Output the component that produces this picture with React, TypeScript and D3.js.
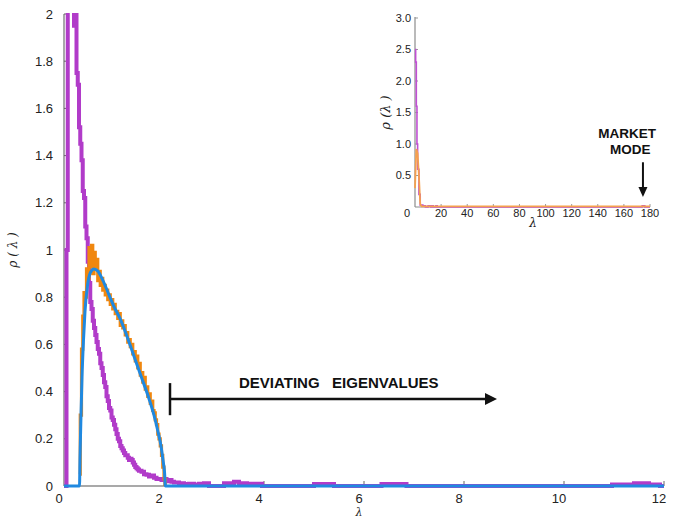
import React from 'react';
import * as d3 from 'd3';

const W = 675;
const H = 521;

// ---- main chart data ----
const mainXTicks = [0, 2, 4, 6, 8, 10, 12];
const mainYTicks = [0, 0.2, 0.4, 0.6, 0.8, 1, 1.2, 1.4, 1.6, 1.8, 2];
const mainYTickLabels = ['0', '0.2', '0.4', '0.6', '0.8', '1', '1.2', '1.4', '1.6', '1.8', '2'];

// empirical histogram (purple)
const purpleX = [0, 0.025, 0.05, 0.075, 0.1, 0.125, 0.15, 0.175, 0.2, 0.225, 0.25, 0.275, 0.3, 0.325, 0.35, 0.375, 0.4, 0.425, 0.45, 0.475, 0.5, 0.525, 0.55, 0.575, 0.6, 0.625, 0.65, 0.675, 0.7, 0.725, 0.75, 0.775, 0.8, 0.825, 0.85, 0.875, 0.9, 0.925, 0.95, 0.975, 1.0, 1.025, 1.05, 1.075, 1.1, 1.125, 1.15, 1.175, 1.2, 1.225, 1.25, 1.275, 1.3, 1.325, 1.35, 1.375, 1.4, 1.425, 1.45, 1.475, 1.5, 1.55, 1.6, 1.65, 1.7, 1.75, 1.8, 1.85, 1.9, 1.95, 2.0, 2.05, 2.1, 2.15, 2.2, 2.3, 2.4, 2.5, 2.6, 2.7, 2.8, 2.9, 3.2, 3.4, 3.5, 3.66, 3.96, 5.0, 5.4, 6.35, 6.85, 10.96, 11.4, 11.7, 11.92, 12];
const purpleY = [0, 0, 1.0, 2.6, 2.9, 2.7, 2.4, 2.25, 1.95, 2.0, 1.75, 1.7, 1.52, 1.45, 1.38, 1.25, 1.22, 1.1, 1.05, 0.95, 0.86, 0.78, 0.75, 0.7, 0.67, 0.64, 0.61, 0.58, 0.56, 0.52, 0.5, 0.47, 0.44, 0.42, 0.38, 0.36, 0.33, 0.32, 0.29, 0.28, 0.26, 0.24, 0.22, 0.2, 0.19, 0.17, 0.16, 0.15, 0.14, 0.13, 0.13, 0.12, 0.11, 0.115, 0.11, 0.1, 0.09, 0.08, 0.075, 0.07, 0.065, 0.06, 0.05, 0.048, 0.04, 0.045, 0.035, 0.03, 0.03, 0.025, 0.03, 0.02, 0.025, 0.018, 0.015, 0.012, 0.008, 0.01, 0.006, 0.01, 0.012, 0, 0.012, 0.018, 0.012, 0.01, 0, 0.008, 0, 0.008, 0, 0.006, 0.012, 0.006, 0, 0];

// shuffled / filtered histogram (orange)
const orangeX = [0.3, 0.325, 0.35, 0.375, 0.4, 0.425, 0.45, 0.475, 0.5, 0.525, 0.55, 0.575, 0.6, 0.625, 0.65, 0.675, 0.7, 0.725, 0.75, 0.775, 0.8, 0.825, 0.85, 0.875, 0.9, 0.925, 0.95, 0.975, 1.0, 1.025, 1.05, 1.075, 1.1, 1.125, 1.15, 1.175, 1.2, 1.225, 1.25, 1.275, 1.3, 1.325, 1.35, 1.375, 1.4, 1.425, 1.45, 1.475, 1.5, 1.525, 1.55, 1.575, 1.6, 1.625, 1.65, 1.675, 1.7, 1.725, 1.75, 1.775, 1.8, 1.825, 1.85, 1.875, 1.9, 1.925, 1.95, 1.975, 2.0, 2.025];
const orangeY = [0.05, 0.30, 0.58, 0.72, 0.82, 0.80, 0.92, 0.88, 1.01, 0.93, 1.02, 0.90, 0.99, 0.93, 0.96, 0.87, 0.91, 0.85, 0.88, 0.83, 0.85, 0.81, 0.83, 0.79, 0.81, 0.77, 0.79, 0.75, 0.77, 0.73, 0.74, 0.71, 0.73, 0.68, 0.70, 0.67, 0.68, 0.64, 0.65, 0.61, 0.62, 0.59, 0.60, 0.56, 0.57, 0.53, 0.55, 0.50, 0.52, 0.47, 0.48, 0.44, 0.46, 0.41, 0.42, 0.38, 0.39, 0.35, 0.36, 0.32, 0.31, 0.28, 0.26, 0.22, 0.20, 0.17, 0.13, 0.08, 0.03, 0];

// theoretical density (blue)
const blueX = [0, 0.31, 0.32, 0.34, 0.36, 0.39, 0.42, 0.47, 0.53, 0.60, 0.68, 0.78, 0.90, 1.0, 1.12, 1.25, 1.40, 1.55, 1.70, 1.80, 1.88, 1.94, 1.98, 2.01, 2.03, 12];
const blueY = [0, 0, 0.12, 0.30, 0.46, 0.62, 0.74, 0.85, 0.905, 0.92, 0.91, 0.87, 0.81, 0.76, 0.71, 0.64, 0.55, 0.46, 0.37, 0.30, 0.23, 0.17, 0.11, 0.06, 0, 0];

// ---- inset data ----
const insetXTicks = [0, 20, 40, 60, 80, 100, 120, 140, 160, 180];
const insetYTicks = [0.5, 1.0, 1.5, 2.0, 2.5, 3.0];
const insetYTickLabels = ['0.5', '1.0', '1.5', '2.0', '2.5', '3.0'];
const insetPurpleX = [0, 0.5, 1, 1.5, 2, 3, 4, 6, 8, 10, 12, 13, 14, 16, 17, 18, 174, 176, 180];
const insetPurpleY = [2.5, 2.3, 1.6, 1.0, 0.6, 0.2, 0.03, 0.02, 0, 0.02, 0, 0.02, 0, 0.02, 0, 0, 0.02, 0, 0];
const insetOrangeX = [0, 1, 2, 3, 4, 5, 180];
const insetOrangeY = [0.3, 0.92, 0.85, 0.5, 0.05, 0.01, 0.01];

// ---- annotations (data units) ----
const devBarX = 2.12;
const devBarY = [0.3, 0.436];
const devLineY = 0.369;
const devArrowEnd = 8.66;
const devTextX = 3.5;
const devTextY = 0.415;
const mmArrowX = 174.6;
const mmArrowY = [0.71, 0.16];
const mmTextX = 162.5;
const mmTextY = [1.095, 0.84];

const PURPLE = '#b13bc9';
const ORANGE = '#f0870f';
const BLUE = '#2089e0';
const AXIS = '#8c8c8c';
const FONT = '"Liberation Sans", Arial, sans-serif';
const SERIF = '"DejaVu Serif", "Liberation Serif", serif';

export default function App() {
  const x = d3.scaleLinear().domain([0, 12]).range([64, 664]);
  const y = d3.scaleLinear().domain([0, 2]).range([486, 14]);
  const ix = d3.scaleLinear().domain([0, 180]).range([415, 650]);
  const iy = d3.scaleLinear().domain([0, 3]).range([207, 18]);

  const mkLine = (xs: number[], sx: any, sy: any, curve: any) =>
    d3.line<number>()
      .x((_, i) => sx(xs[i]))
      .y((d) => sy(d))
      .curve(curve);

  const purplePath = mkLine(purpleX, x, y, d3.curveStepAfter)(purpleY.slice(0, purpleX.length)) || '';
  const orangePath = mkLine(orangeX, x, y, d3.curveStepAfter)(orangeY.slice(0, orangeX.length)) || '';
  const bluePath = mkLine(blueX, x, y, d3.curveMonotoneX)(blueY.slice(0, blueX.length)) || '';
  const iPurplePath = mkLine(insetPurpleX, ix, iy, d3.curveStepAfter)(insetPurpleY) || '';
  const iOrangePath = mkLine(insetOrangeX, ix, iy, d3.curveLinear)(insetOrangeY) || '';

  const x0 = x(0), y0 = y(0);
  const ix0 = ix(0), iy0 = iy(0);

  return (
    <svg width={W} height={H} style={{ position: 'absolute', left: 0, top: 0, background: '#fff' }}>
      <defs>
        <clipPath id="mainClip">
          <rect x={x0} y={y(2) - 1} width={x(12) - x0 + 2} height={y0 - y(2) + 5} />
        </clipPath>
      </defs>
      <rect x={0} y={0} width={W} height={H} fill="#fff" />

      {/* main axes */}
      <line x1={x0} x2={x0} y1={y(2)} y2={y0} stroke={AXIS} strokeWidth={1.5} />
      <line x1={x0} x2={x(12)} y1={y0} y2={y0} stroke={AXIS} strokeWidth={1.5} />
      {mainYTicks.map((t, i) => (
        <g key={'yt' + i}>
          <line x1={x0} x2={x0 + 4} y1={y(t)} y2={y(t)} stroke="#666" strokeWidth={1} />
          <text x={x0 - 11} y={y(t)} dy="0.35em" textAnchor="end" fontFamily={FONT} fontSize={13} fill="#222">
            {mainYTickLabels[i]}
          </text>
        </g>
      ))}
      {mainXTicks.map((t, i) => (
        <g key={'xt' + i}>
          {t > 0 && <line x1={x(t)} x2={x(t)} y1={y0} y2={y0 - 5} stroke="#666" strokeWidth={1} />}
          <text x={x(t) - 5} y={y0 + 17} textAnchor="middle" fontFamily={FONT} fontSize={13} fill="#222">
            {String(t)}
          </text>
        </g>
      ))}
      <text x={(x0 + x(12)) / 2 - 5} y={516} textAnchor="middle" fontFamily={SERIF} fontStyle="italic" fontSize={11} fill="#222">
        λ
      </text>
      <text
        transform={`translate(17, ${y(1)}) rotate(-90)`}
        textAnchor="middle"
        fontFamily={SERIF}
        fontStyle="italic"
        fontSize={12}
        fill="#222"
        style={{ whiteSpace: 'pre' }}
      >
        ρ ( λ )
      </text>

      {/* main curves */}
      <g clipPath="url(#mainClip)">
        <path d={purplePath} fill="none" stroke={PURPLE} strokeWidth={4} strokeLinejoin="miter" />
        <path d={orangePath} fill="none" stroke={ORANGE} strokeWidth={3.2} />
        <path d={bluePath} fill="none" stroke={BLUE} strokeWidth={3} strokeLinejoin="round" />
      </g>

      {/* deviating eigenvalues annotation */}
      <line x1={x(devBarX)} x2={x(devBarX)} y1={y(devBarY[0])} y2={y(devBarY[1])} stroke="#111" strokeWidth={2.5} />
      <line x1={x(devBarX)} x2={x(devArrowEnd) - 10} y1={y(devLineY)} y2={y(devLineY)} stroke="#111" strokeWidth={2.5} />
      <path
        d={`M${x(devArrowEnd)},${y(devLineY)} L${x(devArrowEnd) - 12},${y(devLineY) - 6} L${x(devArrowEnd) - 12},${y(devLineY) + 6} Z`}
        fill="#111"
      />
      <text x={x(devTextX)} y={y(devTextY)} fontFamily={FONT} fontWeight="bold" fontSize={15} fill="#111" style={{ whiteSpace: 'pre' }}>
        DEVIATING   EIGENVALUES
      </text>

      {/* inset */}
      <line x1={ix0} x2={ix0} y1={iy(3) - 1} y2={iy0} stroke={AXIS} strokeWidth={1.2} />
      <line x1={ix0} x2={ix(180)} y1={iy0} y2={iy0} stroke={AXIS} strokeWidth={1.2} />
      {insetYTicks.map((t, i) => (
        <g key={'iyt' + i}>
          <line x1={ix0} x2={ix0 + 3} y1={iy(t)} y2={iy(t)} stroke="#999" strokeWidth={1} />
          <text x={ix0 - 4} y={iy(t)} dy="0.35em" textAnchor="end" fontFamily={FONT} fontSize={11} fill="#222">
            {insetYTickLabels[i]}
          </text>
        </g>
      ))}
      {insetXTicks.map((t, i) => (
        <g key={'ixt' + i}>
          {t > 0 && <line x1={ix(t)} x2={ix(t)} y1={iy0} y2={iy0 - 3} stroke="#999" strokeWidth={1} />}
          <text
            x={t === 0 ? ix(t) - 5 : ix(t)}
            y={iy0 + 9.5}
            textAnchor={t === 0 ? 'end' : 'middle'}
            fontFamily={FONT}
            fontSize={11}
            fill="#222"
          >
            {String(t)}
          </text>
        </g>
      ))}
      <path d={iPurplePath} fill="none" stroke="#c150d4" strokeWidth={1.6} />
      <path d={iOrangePath} fill="none" stroke="#f5a04e" strokeWidth={1.8} />
      <text x={533} y={227} textAnchor="middle" fontFamily={SERIF} fontStyle="italic" fontSize={12} fill="#222">
        λ
      </text>
      <text
        transform={`translate(390, ${iy(1.5)}) rotate(-90)`}
        textAnchor="middle"
        fontFamily={SERIF}
        fontStyle="italic"
        fontSize={13}
        fill="#222"
        style={{ whiteSpace: 'pre' }}
      >
        ρ (λ )
      </text>

      {/* market mode annotation */}
      <text x={ix(mmTextX)} y={iy(mmTextY[0])} textAnchor="middle" fontFamily={FONT} fontWeight="bold" fontSize={13.5} fill="#111">
        MARKET
      </text>
      <text x={ix(mmTextX) + 3} y={iy(mmTextY[1])} textAnchor="middle" fontFamily={FONT} fontWeight="bold" fontSize={13.5} fill="#111">
        MODE
      </text>
      <line x1={ix(mmArrowX)} x2={ix(mmArrowX)} y1={iy(mmArrowY[0])} y2={iy(mmArrowY[1]) - 8} stroke="#111" strokeWidth={2} />
      <path
        d={`M${ix(mmArrowX)},${iy(mmArrowY[1])} L${ix(mmArrowX) - 4.5},${iy(mmArrowY[1]) - 10} L${ix(mmArrowX) + 4.5},${iy(mmArrowY[1]) - 10} Z`}
        fill="#111"
      />
    </svg>
  );
}
